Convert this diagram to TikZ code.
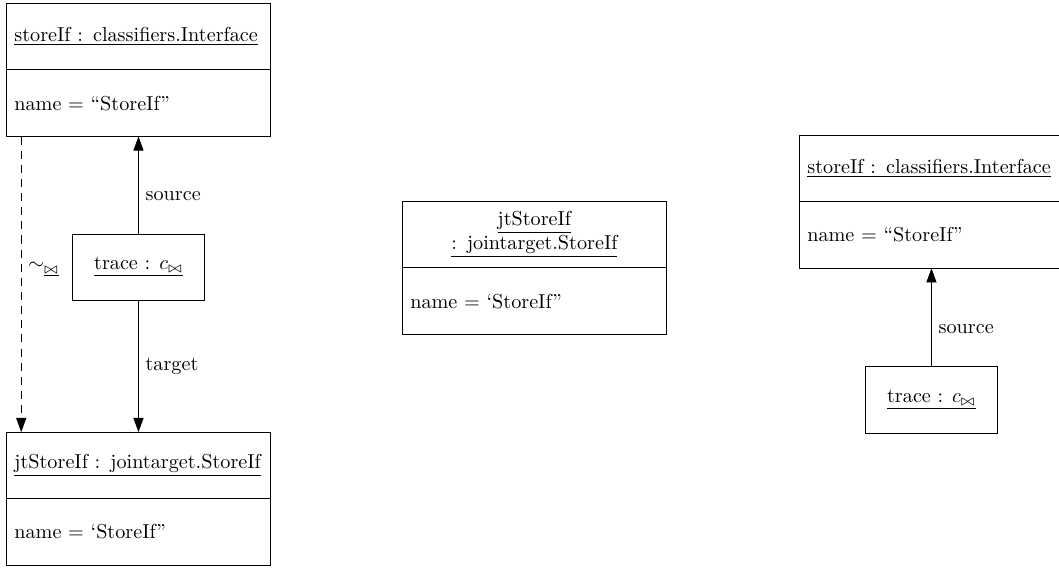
\documentclass[tikz,border=0pt]{standalone}
\usepackage{amsmath,amssymb}
\usetikzlibrary{positioning,arrows.meta,calc}
\tikzset{
  obj part/.style={
    draw,
    rectangle,
    outer sep=0pt,
    minimum width=4.6cm,
    minimum height=1.16cm,
    text width=4.32cm,
    inner xsep=4pt,
    align=left
  },
  trace obj/.style={
    draw,
    rectangle,
    minimum width=2.3cm,
    minimum height=1.15cm
  },
  link/.style={
    -{Triangle[length=7pt,width=5pt]}
  },
  corr link/.style={
    link,
    dash pattern=on 4pt off 3pt
  },
  role/.style={right}
}

\begin{document}
\begin{tikzpicture}
  \useasboundingbox (0,0) rectangle (18.43,-9.87);
  % left: source object, trace and joined target
  \node[obj part] (src-head) at (2.41,-0.635) {\underline{storeIf : classifiers.Interface}};
  \node[obj part, below=0pt of src-head] (src-body) {name $=$ ``StoreIf''};
  \node[trace obj] (trace1) at (2.41,-4.65) {\underline{trace : $c_{\bowtie}$}};
  \node[obj part] (tgt-head) at (2.41,-8.10) {\underline{jtStoreIf : jointarget.StoreIf}};
  \node[obj part, below=0pt of tgt-head] (tgt-body) {name $=$ `StoreIf''};

  \draw[link] (trace1) -- node[role, pos=0.39] {source} (src-body);
  \draw[link] (trace1) -- node[role] {target} (tgt-head);
  \draw[corr link] ([xshift=0.26cm]src-body.south west) --
    node[role, pos=0.45] {$\sim_{\underline{\bowtie}}$} ([xshift=0.26cm]tgt-head.north west);

  % middle: target object alone
  \node[obj part, align=center] (jt-head) at (9.30,-4.08) {\underline{jtStoreIf}\\\underline{: jointarget.StoreIf}};
  \node[obj part, below=0pt of jt-head] (jt-body) {name $=$ `StoreIf''};

  % right: source object with trace
  \node[obj part] (si-head) at (16.21,-2.93) {\underline{storeIf : classifiers.Interface}};
  \node[obj part, below=0pt of si-head] (si-body) {name $=$ ``StoreIf''};
  \node[trace obj] (trace2) at (16.21,-6.96) {\underline{trace : $c_{\bowtie}$}};

  \draw[link] (trace2) -- node[role, pos=0.38] {source} (si-body);
\end{tikzpicture}
\end{document}
